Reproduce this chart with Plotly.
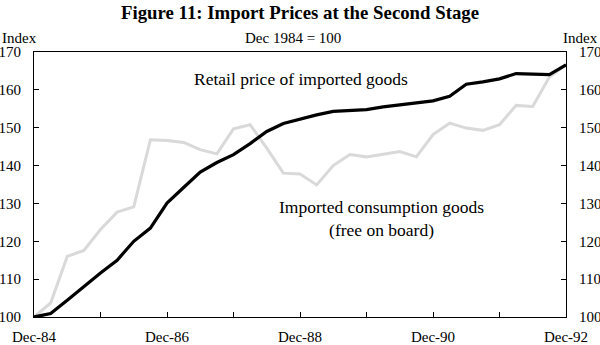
import plotly.graph_objects as go

# Quarterly observations, Dec-84 .. Dec-92 (index: 0 = Dec-84)
quarters = list(range(33))
retail_imported = [100.0, 100.9, 104.4, 108.1, 111.6, 115.0, 120.0, 123.5, 130.1, 134.2,
                   138.3, 140.8, 142.9, 145.8, 149.0, 151.1, 152.3, 153.4, 154.3, 154.6,
                   154.8, 155.5, 156.1, 156.5, 157.1, 158.3, 161.5, 162.1, 162.9, 164.3,
                   164.2, 164.0, 166.6]
imported_fob = [100.0, 103.7, 116.0, 117.6, 123.1, 127.7, 129.1, 146.8, 146.6, 146.1,
                144.2, 143.1, 149.7, 150.8, 144.6, 138.0, 137.8, 134.9, 140.0, 142.9,
                142.3, 143.1, 143.7, 142.3, 148.2, 151.2, 149.9, 149.3, 150.8, 155.9,
                155.6, 163.4, 166.6]

tick_positions = [0, 4, 8, 12, 16, 20, 24, 28, 32]
tick_labels = ["Dec-84", "", "Dec-86", "", "Dec-88", "", "Dec-90", "", "Dec-92"]
y_ticks = [100, 110, 120, 130, 140, 150, 160, 170]

FONT = "Liberation Serif"
fs = 15
fa = 17.5

W, H = 600, 345
ML, MR, MT, MB = 34, 34, 52, 28
PW, PH = W - ML - MR, H - MT - MB

def px_x(px):
    return (px - ML) / PW

def px_y(py):
    return (H - MB - py) / PH

fig = go.Figure()
fig.add_trace(go.Scatter(x=quarters, y=imported_fob, mode="lines",
                         line=dict(color="#d9d9d9", width=3), yaxis="y",
                         hoverinfo="skip", showlegend=False))
fig.add_trace(go.Scatter(x=quarters, y=retail_imported, mode="lines",
                         line=dict(color="#000000", width=3.2), yaxis="y2",
                         hoverinfo="skip", showlegend=False))

axis_common = dict(range=[100, 170], tickvals=y_ticks, ticks="inside", ticklen=5,
                   tickcolor="#000", tickwidth=1, showgrid=False, zeroline=False,
                   linecolor="#000", linewidth=1, showline=True, automargin=False,
                   tickfont=dict(family=FONT, size=fs, color="#000"),
                   ticklabelstandoff=9)

fig.update_layout(
    width=W, height=H,
    margin=dict(l=ML, r=MR, t=MT, b=MB, autoexpand=False),
    paper_bgcolor="white", plot_bgcolor="white",
    font=dict(family=FONT, size=fs, color="#000"),
    xaxis=dict(range=[0, 32], tickvals=tick_positions, ticktext=tick_labels,
               ticks="inside", ticklen=5, tickcolor="#000", showgrid=False,
               zeroline=False, showline=True, linecolor="#000", linewidth=1,
               mirror=True, automargin=False,
               tickfont=dict(family=FONT, size=fs, color="#000"),
               ticklabelstandoff=6),
    yaxis=dict(side="left", **axis_common),
    yaxis2=dict(side="right", overlaying="y", **axis_common),
    annotations=[
        dict(text="<b>Figure 11: Import Prices at the Second Stage</b>",
             x=px_x(300), y=px_y(12), xanchor="center", yanchor="middle",
             xref="paper", yref="paper", showarrow=False,
             font=dict(family=FONT, size=18.8)),
        dict(text="Index", x=px_x(0), xanchor="left", y=px_y(38), yanchor="middle",
             xref="paper", yref="paper", showarrow=False,
             font=dict(family=FONT, size=fs)),
        dict(text="Index", x=px_x(600), xanchor="right", y=px_y(38), yanchor="middle",
             xref="paper", yref="paper", showarrow=False,
             font=dict(family=FONT, size=fs)),
        dict(text="Dec 1984 = 100", x=px_x(293), xanchor="center",
             y=px_y(38), yanchor="middle",
             xref="paper", yref="paper", showarrow=False,
             font=dict(family=FONT, size=fs)),
        dict(text="Retail price of imported goods", x=16.05, y=162.8,
             xanchor="center", yanchor="middle",
             xref="x", yref="y", showarrow=False, font=dict(family=FONT, size=fa)),
        dict(text="Imported consumption goods<br>(free on board)", x=20.9, y=126.0,
             xanchor="center", yanchor="middle",
             xref="x", yref="y", showarrow=False, font=dict(family=FONT, size=fa)),
    ],
)

fig.write_html("out.html")
